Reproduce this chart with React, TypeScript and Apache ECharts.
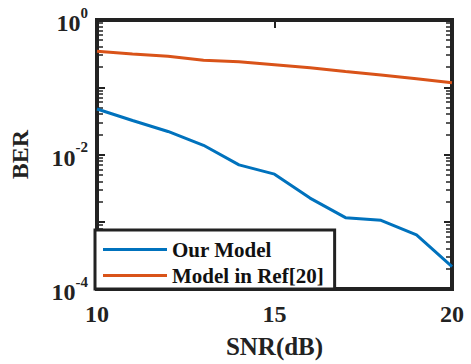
import React, { useEffect, useRef } from "react";
import * as echarts from "echarts";

const snr = [10, 11, 12, 13, 14, 15, 16, 17, 18, 19, 20];
const ourModel = [0.0475, 0.032, 0.022, 0.0137, 0.007, 0.0051, 0.00225, 0.00115, 0.00105, 0.00064, 0.000216];
const refModel = [0.343, 0.313, 0.288, 0.252, 0.239, 0.216, 0.195, 0.172, 0.152, 0.134, 0.117];
const seriesNames = ["Our Model", "Model in Ref[20]"];
const xTicks = [10, 15, 20];
const yMajorTicks = [0.0001, 0.001, 0.01, 0.1, 1];
const yLabelTicks = [0.0001, 0.01, 1];
const yMinorTicks = [
  0.0002, 0.0003, 0.0004, 0.0005, 0.0006, 0.0007, 0.0008, 0.0009,
  0.002, 0.003, 0.004, 0.005, 0.006, 0.007, 0.008, 0.009,
  0.02, 0.03, 0.04, 0.05, 0.06, 0.07, 0.08, 0.09,
  0.2, 0.3, 0.4, 0.5, 0.6, 0.7, 0.8, 0.9,
];

const FONT = "'Liberation Serif', 'Times New Roman', serif";
const INK = "#222";

export default function App() {
  const ref = useRef<HTMLDivElement>(null);
  useEffect(() => {
    if (!ref.current) return;
    const chart = echarts.init(ref.current, undefined, { renderer: "svg" });
    const baseY = {
      type: "log" as const,
      logBase: 10,
      min: 0.0001,
      max: 1,
      axisLine: { show: false },
      splitLine: { show: false },
      minorTick: { show: false },
      minorSplitLine: { show: false },
    };
    chart.setOption({
      animation: false,
      backgroundColor: "#fff",
      grid: {
        left: 96,
        right: 19,
        top: 20,
        bottom: 75,
        show: true,
        borderWidth: 4,
        borderColor: INK,
        backgroundColor: "#fff",
      },
      legend: {
        orient: "vertical",
        left: 95,
        top: 230,
        padding: [9, 11, 3, 8],
        itemWidth: 64,
        itemHeight: 3,
        itemGap: 5,
        icon: "rect",
        borderWidth: 3,
        borderColor: INK,
        borderRadius: 0,
        backgroundColor: "#fff",
        textStyle: { fontFamily: FONT, fontWeight: "bold", fontSize: 21, color: "#111" },
        data: seriesNames,
      },
      xAxis: [
        {
          type: "value",
          min: 10,
          max: 20,
          interval: 5,
          name: "SNR(dB)",
          nameLocation: "middle",
          nameGap: 45,
          nameTextStyle: { fontFamily: FONT, fontWeight: "bold", fontSize: 25, color: INK },
          axisLine: { show: false },
          splitLine: { show: false },
          axisTick: { show: true, inside: true, length: 8, lineStyle: { color: INK, width: 2 }, customValues: xTicks },
          axisLabel: {
            fontFamily: FONT,
            fontWeight: "bold",
            fontSize: 24,
            color: INK,
            margin: 13,
            customValues: xTicks,
          },
        },
        {
          type: "value",
          position: "top",
          min: 10,
          max: 20,
          interval: 5,
          axisLine: { show: false },
          splitLine: { show: false },
          axisTick: { show: true, inside: true, length: 8, lineStyle: { color: INK, width: 2 } },
          axisLabel: { show: false },
        },
      ],
      yAxis: [
        {
          ...baseY,
          position: "left",
          name: "BER",
          nameLocation: "middle",
          nameRotate: 90,
          nameGap: 65,
          nameTextStyle: { fontFamily: FONT, fontWeight: "bold", fontSize: 24, color: INK },
          axisTick: { show: true, inside: true, length: 8, lineStyle: { color: INK, width: 2 }, customValues: yMajorTicks },
          axisLabel: {
            margin: 9,
            customValues: yLabelTicks,
            formatter: (v: number) => {
              const e = Math.round(Math.log10(v));
              return `{b|10}{s|${e}}`;
            },
            rich: {
              b: { fontFamily: FONT, fontWeight: "bold", fontSize: 24, color: INK, padding: [6, 0, 0, 0] },
              s: { fontFamily: FONT, fontWeight: "bold", fontSize: 15, color: INK, verticalAlign: "top" },
            },
          },
        },
        {
          ...baseY,
          position: "right",
          axisTick: { show: true, inside: true, length: 8, lineStyle: { color: INK, width: 2 }, customValues: yMajorTicks },
          axisLabel: { show: false },
        },
        {
          ...baseY,
          position: "left",
          axisTick: { show: true, inside: true, length: 6, lineStyle: { color: INK, width: 1.5 }, customValues: yMinorTicks },
          axisLabel: { show: false },
        },
        {
          ...baseY,
          position: "right",
          axisTick: { show: true, inside: true, length: 6, lineStyle: { color: INK, width: 1.5 }, customValues: yMinorTicks },
          axisLabel: { show: false },
        },
      ],
      series: [
        {
          name: seriesNames[0],
          type: "line",
          data: snr.map((x, i) => [x, ourModel[i]]),
          showSymbol: false,
          symbol: "none",
          color: "#0072BD",
          lineStyle: { width: 3, color: "#0072BD" },
          z: 3,
        },
        {
          name: seriesNames[1],
          type: "line",
          data: snr.map((x, i) => [x, refModel[i]]),
          showSymbol: false,
          symbol: "none",
          color: "#D95319",
          lineStyle: { width: 3, color: "#D95319" },
          z: 3,
        },
      ],
    });
    return () => chart.dispose();
  }, []);
  return (
    <div
      ref={ref}
      style={{ position: "fixed", left: 0, top: 0, width: 471, height: 364, background: "#fff" }}
    />
  );
}
